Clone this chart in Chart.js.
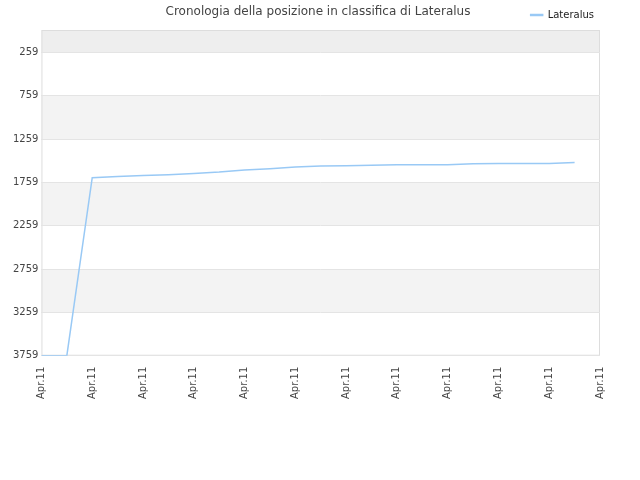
<!DOCTYPE html>
<html><head><meta charset="utf-8">
<script src="https://cdn.jsdelivr.net/npm/chart.js@4/dist/chart.umd.min.js"></script>
<style>body{margin:0;background:#fff}</style>
</head><body><canvas id="c" width="640" height="480"></canvas>
<script>
const xLabels = ['Apr.11','Apr.11','Apr.11','Apr.11','Apr.11','Apr.11','Apr.11','Apr.11','Apr.11','Apr.11','Apr.11','Apr.11'];
const yTicks = [259,759,1259,1759,2259,2759,3259,3759];
// half-step positions (0..22), each label every 2 steps
const posX = [0,1,2,3,4,5,6,7,8,9,10,11,12,13,14,15,16,17,18,19,20,21];
const rank = [3759,3759,1705,1690,1680,1670,1655,1640,1615,1600,1580,1570,1568,1560,1555,1555,1555,1545,1540,1540,1540,1530];

const bands = {
  id:'bands',
  beforeDraw(ch){
    const {ctx, chartArea:a, scales:{y}} = ch;
    ctx.save();
    const edges = [0].concat(yTicks);
    for(let i=0;i<edges.length-1;i++){
      if(i%2) continue;
      const t = y.getPixelForValue(edges[i]), b = y.getPixelForValue(edges[i+1]);
      ctx.fillStyle = i===0 ? '#eeeeee' : '#f3f3f3';
      ctx.fillRect(a.left, t, a.right-a.left, b-t);
    }
    ctx.strokeStyle='#ddd'; ctx.lineWidth=1;
    ctx.strokeRect(a.left+0.5,a.top+0.5,a.right-a.left-1,a.bottom-a.top-1);
    ctx.fillStyle='#444'; ctx.font='12px "DejaVu Sans"'; ctx.textAlign='center'; ctx.textBaseline='middle';
    ctx.fillText('Cronologia della posizione in classifica di Lateralus',318,12);
    ctx.restore();
  }
};

new Chart(document.getElementById('c'), {
  type:'line',
  data:{datasets:[{label:'Lateralus', data:posX.map((x,i)=>({x, y:rank[i]})),
    borderColor:'#99c9f5', borderWidth:1.5, pointRadius:0, tension:0, fill:false}]},
  options:{
    responsive:false, animation:false,
    layout:{padding:{left:10,right:40,top:4,bottom:78}},
    plugins:{
      title:{display:false},
      legend:{display:true,align:'end',position:'top',
        labels:{boxWidth:12,boxHeight:1,color:'#222',padding:6,font:{family:'DejaVu Sans',size:10}}},
      tooltip:{enabled:false}
    },
    scales:{
      x:{type:'linear',min:0,max:22,
        afterBuildTicks(s){s.ticks=xLabels.map((_,i)=>({value:i*2}));},
        ticks:{callback:(v)=>xLabels[v/2],maxRotation:90,minRotation:90,autoSkip:false,color:'#444',font:{family:'DejaVu Sans',size:10}},
        grid:{display:false},border:{display:false}},
      y:{reverse:true,min:0,max:3759,
        afterBuildTicks(s){s.ticks=yTicks.map(v=>({value:v}));},
        ticks:{callback:v=>String(v),color:'#444',font:{family:'DejaVu Sans',size:10}},
        grid:{color:'#e4e4e4',drawTicks:false},border:{display:false}}
    }
  },
  plugins:[bands]
});
</script></body></html>
